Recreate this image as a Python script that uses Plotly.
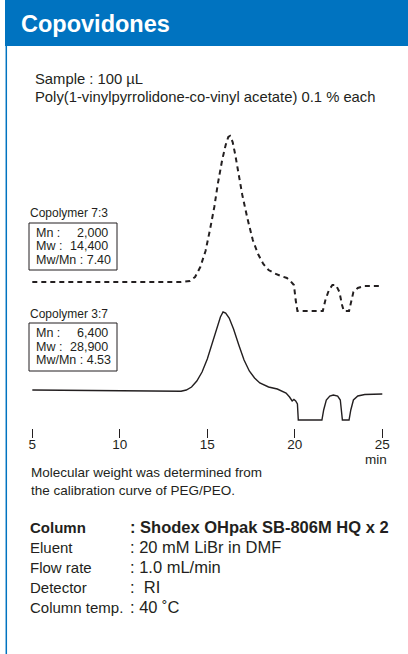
import plotly.graph_objects as go

# Copolymer 3:7 (solid) - retention time (min) and RI response (relative)
time_37 = [5.0, 7.0, 9.0, 11.0, 13.0, 13.5, 13.8, 14.1, 14.4, 14.7, 15.0, 15.3, 15.55,
           15.75, 15.9, 16.05, 16.25, 16.5, 16.8, 17.1, 17.4, 17.7, 18.0, 18.5, 19.0,
           19.3, 19.5, 19.7, 19.85, 19.95, 20.05, 20.15, 20.2, 21.55, 21.65, 21.8, 22.0,
           22.2, 22.45, 22.6, 22.72, 23.1, 23.2, 23.35, 23.6, 24.0, 24.5, 25.0]
resp_37 = [0, -0.3, -0.7, -1.2, -1.5, -1.3, 0, 3, 9, 18, 31, 48, 63,
           73, 78, 77, 72, 61, 45, 30, 19, 12, 7, 3, 1,
           -1, -3, -7, -11, -9.5, -11, -14, -30, -30, -20, -10, -6,
           -5, -6, -10, -30, -30, -20, -10, -6, -4.5, -4, -4]

# Copolymer 7:3 (dashed)
time_73 = [5.0, 10.0, 13.5, 14.0, 14.3, 14.6, 14.9, 15.15, 15.4, 15.6, 15.85, 16.05,
           16.2, 16.3, 16.45, 16.6, 16.8, 17.0, 17.3, 17.6, 17.9, 18.2, 18.5, 18.8,
           19.2, 19.55, 19.75, 19.95, 20.05, 20.15, 21.6, 21.75, 21.95, 22.15, 22.35,
           22.55, 22.7, 22.8, 23.1, 23.2, 23.35, 23.6, 24.0, 25.0]
resp_73 = [0, 0, 0, 1, 5, 15, 31, 52, 75, 98, 122, 137,
           145, 146, 140, 127, 107, 87, 63, 42, 28, 18, 12, 9,
           6, 4, 1, -3, -18, -29, -29, -18, -8, -3, -3,
           -10, -23, -29, -29, -20, -10, -6, -4, -4]

tick_vals = [5, 10, 15, 20, 25]

stats_73 = [("Mn :", "2,000"), ("Mw :", "14,400"), ("Mw/Mn :", "7.40")]
stats_37 = [("Mn :", "6,400"), ("Mw :", "28,900"), ("Mw/Mn :", "4.53")]

conditions = [("Column", ": Shodex OHpak SB-806M HQ x 2"),
              ("Eluent", ": 20 mM LiBr in DMF"),
              ("Flow rate", ": 1.0 mL/min"),
              ("Detector", ":  RI"),
              ("Column temp.", ": 40 ˚C")]

W, H = 408, 654
BLUE = "#0073c0"
INK = "#231f20"
FONT = "Liberation Sans, Arial, sans-serif"
PLOT_BOTTOM = 428  # px from top where x ticks start


def px(x):
    return x / W


def py(y):
    return 1 - y / H


BASE_37 = PLOT_BOTTOM - 390
BASE_73 = PLOT_BOTTOM - 282

fig = go.Figure()
fig.add_trace(go.Scatter(x=time_73, y=[BASE_73 + r for r in resp_73], mode="lines",
                         line=dict(color=INK, width=2, dash="5px,4px"), hoverinfo="skip"))
fig.add_trace(go.Scatter(x=time_37, y=[BASE_37 + r for r in resp_37], mode="lines",
                         line=dict(color=INK, width=1.4), hoverinfo="skip"))

t0 = 5 - 32.3 / 17.5
t1 = 25 + (W - 382.3) / 17.5

shapes = [
    dict(type="rect", xref="paper", yref="paper", x0=px(5), x1=1, y0=py(46), y1=1,
         fillcolor=BLUE, line=dict(width=0), layer="below"),
    dict(type="line", xref="paper", yref="paper", x0=px(6.3), x1=px(6.3), y0=py(46), y1=0,
         line=dict(color=BLUE, width=1.5)),
    dict(type="rect", xref="paper", yref="paper", x0=px(29), x1=px(117), y0=py(223), y1=py(270),
         line=dict(color=INK, width=1)),
    dict(type="rect", xref="paper", yref="paper", x0=px(29), x1=px(117), y0=py(323), y1=py(371),
         line=dict(color=INK, width=1)),
]

ann = []


def text(x, y, s, size, anchor="left", bold=False, color=INK):
    ann.append(dict(xref="paper", yref="paper", x=px(x), y=py(y), text=f"<b>{s}</b>" if bold else s,
                    showarrow=False, xanchor=anchor, yanchor="middle",
                    font=dict(family=FONT, size=size, color=color)))


def stats_box(y_top, stats):
    for i, (lab, val) in enumerate(stats):
        y = y_top + i * 13.5
        if i == len(stats) - 1:
            text(34, y, f"{lab} {val}", 12.5)
        else:
            text(34, y, lab, 12.5)
            text(110, y, val, 12.5, anchor="right")


text(19, 24, "Copovidones", 23.5, bold=True, color="white")
text(33, 79, "Sample : 100 µL", 14.8)
text(33, 97, "Poly(1-vinylpyrrolidone-co-vinyl acetate) 0.1 % each", 14.8)

text(28, 213, "Copolymer 7:3", 12)
stats_box(233, stats_73)

text(28, 314, "Copolymer 3:7", 12)
stats_box(333, stats_37)

text(389, 459, "min", 13.5, anchor="right")
text(29, 472, "Molecular weight was determined from", 13.5)
text(29, 490, "the calibration curve of PEG/PEO.", 13.5)

for i, (lab, val) in enumerate(conditions):
    text(28, 527 + i * 20, lab, 15, bold=(i == 0))
    text(128, 527 + i * 20, val, 16.5, bold=(i == 0))

fig.update_layout(
    width=W, height=H, autosize=False,
    margin=dict(l=0, r=0, t=0, b=0),
    paper_bgcolor="white", plot_bgcolor="rgba(0,0,0,0)",
    showlegend=False,
    shapes=shapes, annotations=ann,
    xaxis=dict(range=[t0, t1], tickvals=tick_vals, ticks="outside", ticklen=9, tickwidth=1,
               tickcolor=INK, showgrid=False, zeroline=False, showline=False,
               ticklabelstandoff=-5,
               tickfont=dict(family=FONT, size=13.5, color=INK), fixedrange=True),
    yaxis=dict(domain=[py(PLOT_BOTTOM), 1], range=[0, PLOT_BOTTOM], visible=False, fixedrange=True),
)

fig.write_html("out.html", config=dict(displayModeBar=False),
               post_script="document.body.style.margin='0';document.body.style.overflow='hidden';")
